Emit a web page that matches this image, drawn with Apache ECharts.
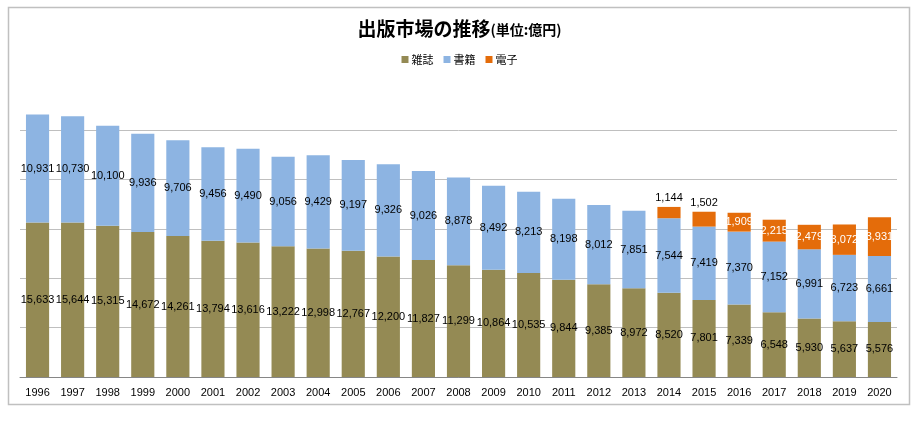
<!DOCTYPE html>
<html><head><meta charset="utf-8">
<script src="https://cdn.jsdelivr.net/npm/echarts@6/dist/echarts.min.js"></script>
<style>html,body{margin:0;padding:0;background:#fff}#c{width:919px;height:422px}</style>
</head><body><div id="c"></div>
<script>
const years = ['1996','1997','1998','1999','2000','2001','2002','2003','2004','2005','2006','2007','2008','2009','2010','2011','2012','2013','2014','2015','2016','2017','2018','2019','2020'];
const magazines = [15633,15644,15315,14672,14261,13794,13616,13222,12998,12767,12200,11827,11299,10864,10535,9844,9385,8972,8520,7801,7339,6548,5930,5637,5576];
const books = [10931,10730,10100,9936,9706,9456,9490,9056,9429,9197,9326,9026,8878,8492,8213,8198,8012,7851,7544,7419,7370,7152,6991,6723,6661];
const digital = [null,null,null,null,null,null,null,null,null,null,null,null,null,null,null,null,null,null,1144,1502,1909,2215,2479,3072,3931];
const labelsAbove = ['2014','2015'];

const fmt = p => p.value == null ? '' : p.value.toLocaleString('en-US');
const digitalData = digital.map((v, i) => {
  if (v == null) return null;
  if (labelsAbove.includes(years[i])) {
    return { value: v, label: { position: 'top', color: '#000', distance: 3 } };
  }
  return v;
});

const chart = echarts.init(document.getElementById('c'));
const labelFont = { fontFamily: 'Liberation Sans, Arial, sans-serif', fontSize: 11 };
chart.setOption({
  animation: false,
  backgroundColor: '#fff',
  graphic: [{ type: 'rect', shape: { x: 8.5, y: 7.5, width: 901, height: 397 }, style: { fill: 'none', stroke: '#c0c0c0', lineWidth: 1.5 }, silent: true }],
  title: {
    text: '{a|出版市場の推移}{b|(単位:億円)}',
    left: 'center', top: 14,
    textStyle: {
      rich: {
        a: { fontSize: 19, fontWeight: 'bold', color: '#000', fontFamily: 'Noto Sans CJK JP' },
        b: { fontSize: 14, fontWeight: 'bold', color: '#000', fontFamily: 'Noto Sans CJK JP', padding: [3, 0, 0, 0] }
      }
    }
  },
  legend: {
    top: 49, left: 'center',
    itemWidth: 7, itemHeight: 7, itemGap: 10, icon: 'rect',
    textStyle: { fontSize: 11, color: '#000', fontFamily: 'Noto Sans CJK JP', padding: [0, 0, 0, -2] },
    data: ['雑誌', '書籍', '電子']
  },
  grid: { left: 20, right: 22, top: 80.5, bottom: 45, containLabel: false },
  xAxis: {
    type: 'category', data: years,
    axisTick: { show: false },
    axisLine: { lineStyle: { color: '#868686', width: 1 } },
    axisLabel: { color: '#000', fontSize: 11, fontFamily: 'Liberation Sans, Arial, sans-serif', margin: 10 }
  },
  yAxis: {
    type: 'value', min: 0, max: 30000, interval: 5000,
    axisLabel: { show: false }, axisLine: { show: false }, axisTick: { show: false },
    splitLine: { lineStyle: { color: ['#868686','#bfbfbf','#bfbfbf','#bfbfbf','#bfbfbf','#bfbfbf','rgba(0,0,0,0)'], width: 1 } }
  },
  series: [
    { name: '雑誌', type: 'bar', stack: 'a', data: magazines, barCategoryGap: '34%',
      itemStyle: { color: '#948a54' },
      label: Object.assign({ show: true, position: 'inside', color: '#000', formatter: fmt }, labelFont) },
    { name: '書籍', type: 'bar', stack: 'a', data: books,
      itemStyle: { color: '#8db4e2' },
      label: Object.assign({ show: true, position: 'inside', color: '#000', formatter: fmt }, labelFont) },
    { name: '電子', type: 'bar', stack: 'a', data: digitalData,
      itemStyle: { color: '#e46c0a' },
      label: Object.assign({ show: true, position: 'inside', color: '#fff', formatter: fmt }, labelFont) }
  ]
});
</script></body></html>
